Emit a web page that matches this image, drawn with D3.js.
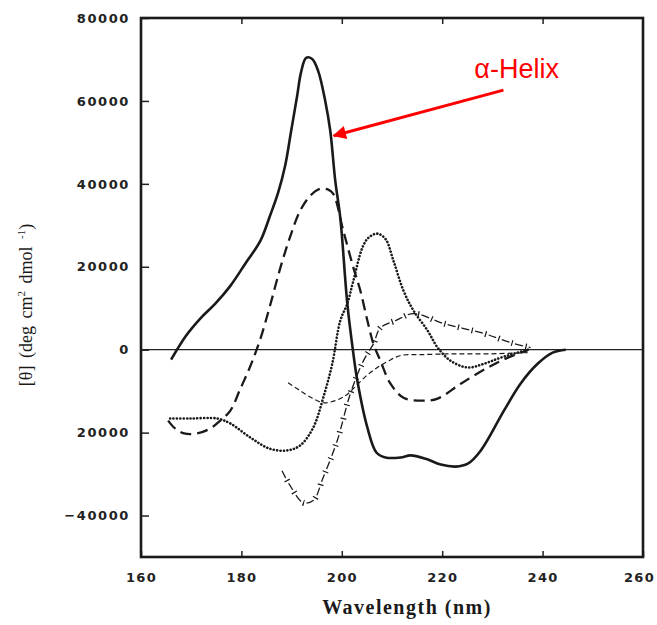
<!DOCTYPE html>
<html>
<head>
<meta charset="utf-8">
<script src="https://cdn.jsdelivr.net/npm/d3@7"></script>
<style>
  body { margin: 0; background: #fff; }
  svg { display: block; }
</style>
</head>
<body>
<script>
// CD spectra: [wavelength (nm), theta]
const alphaHelix = [
  [166, -2400], [169, 3400], [171.8, 7500], [174.8, 11100], [177.8, 15400],
  [180.8, 20800], [183.8, 26300], [185.7, 32300], [187.3, 37800], [188.7, 44300],
  [189.9, 52700], [191.1, 61200], [191.9, 67000], [192.9, 70400], [194.1, 70100],
  [195.3, 67200], [196.7, 60000], [197.7, 52800], [198.7, 40700], [199.7, 31800],
  [201.1, 11100], [202.2, 0], [203.1, -7500], [205.1, -18800], [206.9, -24800],
  [208.7, -26000], [211.7, -26000], [213.7, -25500], [216.7, -26300], [219.7, -27700],
  [222.7, -28200], [225.1, -27500], [227.7, -24300], [232.3, -14700], [235.6, -8200],
  [239, -3400], [242, -700], [244.6, 0]
];

const betaSheet = [
  [165.4, -17100], [166.8, -19000], [168.6, -20200], [171.2, -20200], [173.8, -19000],
  [175.8, -17100], [177.8, -14700], [179.8, -9400], [181.8, -3900], [183.8, 2700],
  [185.7, 10600], [187.7, 19500], [189.7, 27200], [191.7, 33500], [193.7, 37100],
  [195.7, 38800], [197.3, 38600], [198.3, 37600], [200.3, 28700], [202.3, 19800],
  [203.7, 14200], [205.1, 7000], [206.3, 1400], [207.7, -2700], [209.7, -8200],
  [212.3, -11600], [216.3, -12300], [219.1, -11800], [223.7, -8200], [229.1, -4300],
  [233.1, -1900], [237, -200]
];

const betaTurn = [
  [165.8, -16600], [169.8, -16600], [175.2, -16600], [177.8, -17800], [181.8, -21200],
  [185.7, -23900], [189.1, -24300], [191.7, -23100], [194.3, -18800], [196.3, -11600],
  [198.1, -3400], [199.7, 7000], [201.1, 11100], [202.3, 16600], [204.1, 24600],
  [205.3, 27000], [207.1, 28000], [208.7, 26700], [210.3, 21400], [212.3, 14200],
  [214.3, 9400], [217.1, 4600], [219.1, 500], [221.7, -2700], [225.1, -4300],
  [228.3, -3400], [231.7, -1900], [237.6, 200]
];

const polyPro = [
  [188.1, -29200], [189.7, -32800], [192.3, -36900], [194.3, -36400], [196.3, -30800],
  [199.1, -21900], [201.7, -10600], [204.3, -2700], [206.3, 1400], [207.7, 5300],
  [210.7, 7000], [214.3, 8700], [220.3, 6300], [228.3, 3900], [233.7, 1700],
  [237.6, 500]
];

const randomCoil = [
  [189.3, -8000], [191.7, -9900], [194.3, -11800], [196.3, -12800], [198.7, -12300],
  [200.7, -11100], [202.3, -9400], [204.7, -6500], [207.1, -4300], [209.3, -2700],
  [211.7, -1400], [215.7, -1200], [222.3, -1000], [229.7, -1000], [237, -700]
];

const xTicks = [160, 180, 200, 220, 240, 260];
const yTicks = [80000, 60000, 40000, 20000, 0, -20000, -40000];
const yTickLabels = ["80000", "60000", "40000", "20000", "0", "20000", "\u221240000"];

// annotation: arrow tip on the helix curve, tail and label to the right
const helixLabel = { text: "\u03b1-Helix", wl: 226.4, theta: 65500 };
const helixArrow = { fromWl: 232.2, fromTheta: 62600, toWl: 198.4, toTheta: 51600 };

const width = 657,
  height = 625,
  marginTop = 18,
  marginRight = 14,
  marginBottom = 68,
  marginLeft = 141;

const x = d3.scaleLinear([160, 260], [marginLeft, width - marginRight]);
const y = d3.scaleLinear([-50000, 80000], [height - marginBottom, marginTop]);

const svg = d3
  .select("body")
  .append("svg")
  .attr("width", width)
  .attr("height", height)
  .attr("viewBox", [0, 0, width, height]);

const tickFont = "DejaVu Sans, Arial, sans-serif";

// left axis
svg
  .append("g")
  .attr("transform", `translate(${marginLeft},0)`)
  .call(
    d3.axisLeft(y)
      .tickValues(yTicks)
      .tickSize(-8)
      .tickPadding(11)
      .tickFormat((d, i) => yTickLabels[i])
  )
  .call((g) => g.select(".domain").remove())
  .call((g) => g.selectAll(".tick line").attr("stroke", "#222").attr("stroke-width", 1.5))
  .call((g) =>
    g.selectAll(".tick text")
      .attr("font-size", 13)
      .attr("font-family", tickFont)
      .attr("font-weight", "bold")
      .attr("letter-spacing", 1.6)
      .attr("fill", "#222")
  );

// bottom axis
svg
  .append("g")
  .attr("transform", `translate(0,${height - marginBottom})`)
  .call(d3.axisBottom(x).tickValues(xTicks).tickSize(-6).tickPadding(16))
  .call((g) => g.select(".domain").remove())
  .call((g) => g.selectAll(".tick line").attr("stroke", "#222").attr("stroke-width", 1.5))
  .call((g) =>
    g.selectAll(".tick text")
      .attr("font-size", 13)
      .attr("font-family", tickFont)
      .attr("font-weight", "bold")
      .attr("letter-spacing", 1.3)
      .attr("fill", "#222")
      .attr("dx", (d) => (d === 260 ? -4 : 0))
  );

// top ticks, no labels
svg
  .append("g")
  .attr("transform", `translate(0,${marginTop})`)
  .call(d3.axisTop(x).tickValues(xTicks.slice(1, -1)).tickSize(-6).tickFormat(""))
  .call((g) => g.select(".domain").remove())
  .call((g) => g.selectAll(".tick line").attr("stroke", "#222").attr("stroke-width", 1.5));

// frame
svg
  .append("rect")
  .attr("x", marginLeft)
  .attr("y", marginTop)
  .attr("width", width - marginLeft - marginRight)
  .attr("height", height - marginTop - marginBottom)
  .attr("fill", "none")
  .attr("stroke", "#1a1a1a")
  .attr("stroke-width", 2.6);

// zero line
svg
  .append("line")
  .attr("x1", x(160))
  .attr("x2", x(260))
  .attr("y1", y(0))
  .attr("y2", y(0))
  .attr("stroke", "#222")
  .attr("stroke-width", 1.3);

const line = d3
  .line()
  .x((d) => x(d[0]))
  .y((d) => y(d[1]))
  .curve(d3.curveCatmullRom.alpha(0.5));

const curves = svg.append("g").attr("fill", "none").attr("stroke", "#1a1a1a");

curves.append("path").attr("d", line(randomCoil))
  .attr("stroke-width", 1.2)
  .attr("stroke-dasharray", "5,3");

curves.append("path").attr("d", line(polyPro))
  .attr("stroke-width", 1.3)
  .attr("stroke-dasharray", "8,6");

// small cross ticks between the dashes
curves.append("path").attr("d", line(polyPro))
  .attr("stroke-width", 6)
  .attr("stroke-dasharray", "1.2,12.8")
  .attr("stroke-dashoffset", -10.4);

curves.append("path").attr("d", line(betaTurn))
  .attr("stroke-width", 2.6)
  .attr("stroke-linecap", "round")
  .attr("stroke-dasharray", "0.1,3.3");

curves.append("path").attr("d", line(betaSheet))
  .attr("stroke-width", 2.3)
  .attr("stroke-dasharray", "11,6");

curves.append("path").attr("d", line(alphaHelix))
  .attr("stroke-width", 2.6);

// annotation
svg
  .append("defs")
  .append("marker")
  .attr("id", "arrowhead")
  .attr("viewBox", "0 0 10 10")
  .attr("refX", 9)
  .attr("refY", 5)
  .attr("markerWidth", 6.5)
  .attr("markerHeight", 4.5)
  .attr("markerUnits", "strokeWidth")
  .attr("orient", "auto")
  .append("path")
  .attr("d", "M0,0L10,5L0,10z")
  .attr("fill", "#ff0000");

svg
  .append("line")
  .attr("x1", x(helixArrow.fromWl))
  .attr("y1", y(helixArrow.fromTheta))
  .attr("x2", x(helixArrow.toWl))
  .attr("y2", y(helixArrow.toTheta))
  .attr("stroke", "#ff0000")
  .attr("stroke-width", 3)
  .attr("marker-end", "url(#arrowhead)");

svg
  .append("text")
  .attr("x", x(helixLabel.wl))
  .attr("y", y(helixLabel.theta))
  .attr("font-family", "Liberation Sans, Arial, sans-serif")
  .attr("font-size", 27)
  .attr("fill", "#ff0000")
  .text(helixLabel.text);

// axis titles
svg
  .append("text")
  .attr("x", (marginLeft + width - marginRight) / 2 + 15)
  .attr("y", 614)
  .attr("text-anchor", "middle")
  .attr("font-family", "Liberation Serif, Times New Roman, serif")
  .attr("font-weight", "bold")
  .attr("font-size", 20)
  .attr("letter-spacing", 1.5)
  .attr("fill", "#1a1a1a")
  .text("Wavelength (nm)");

const yTitle = svg
  .append("text")
  .attr("transform", `translate(32,305) rotate(-90)`)
  .attr("text-anchor", "middle")
  .attr("font-family", "Liberation Serif, Times New Roman, serif")
  .attr("font-size", 18)
  .attr("word-spacing", 3)
  .attr("fill", "#1a1a1a");
yTitle.append("tspan").text("[\u03b8] (deg cm");
yTitle.append("tspan").attr("font-size", 11).attr("dy", -7).text("2");
yTitle.append("tspan").attr("dy", 7).text(" dmol ");
yTitle.append("tspan").attr("font-size", 11).attr("dy", -7).text("-1");
yTitle.append("tspan").attr("dy", 7).text(")");
</script>
</body>
</html>
